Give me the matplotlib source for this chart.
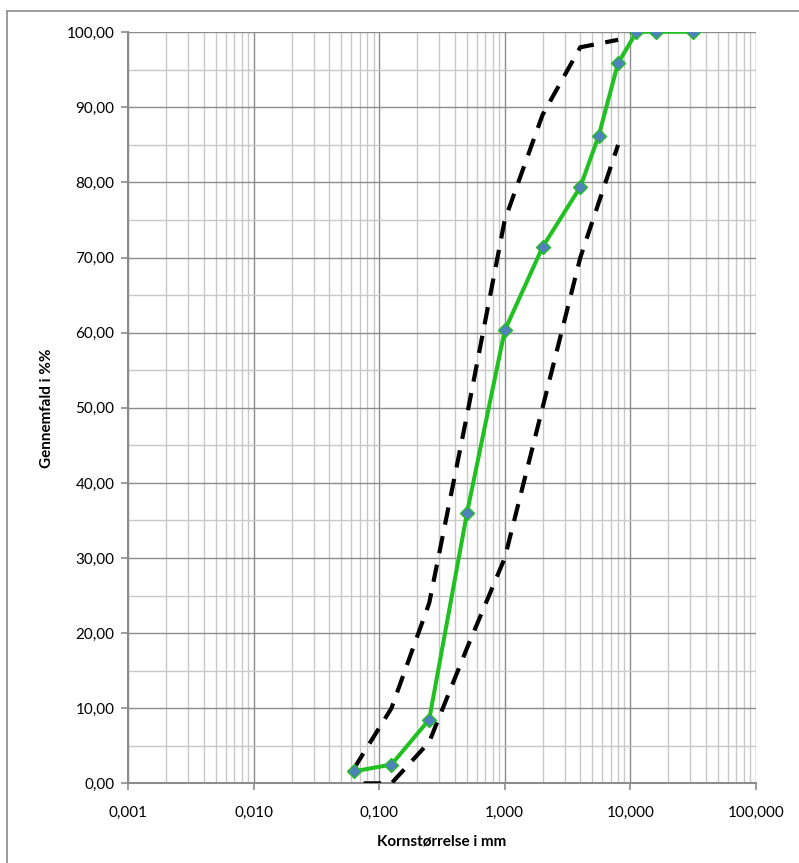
import numpy as np
import matplotlib
matplotlib.use('Agg')
import matplotlib.pyplot as plt
from matplotlib.ticker import FixedLocator, FuncFormatter, LogLocator, MultipleLocator
from matplotlib.lines import Line2D

# sieve analysis
sieve = [0.063, 0.125, 0.25, 0.5, 1, 2, 4, 5.6, 8, 11.2, 16, 31.5]
passing = [1.6, 2.5, 8.5, 36.0, 60.3, 71.4, 79.4, 86.2, 95.9, 100, 100, 100]

fine_x = [0.063, 0.125, 0.25, 0.5, 1, 2, 4, 8]
fine_y = [2, 10, 24, 49, 75, 89, 98, 99]

coarse_x = [0.075, 0.125, 0.25, 0.5, 1, 2, 4, 8]
coarse_y = [0, 0, 5.5, 18, 30, 50, 70, 85]

x_ticks = [0.001, 0.01, 0.1, 1, 10, 100]
y_ticks = np.arange(0, 101, 10)

plt.rcParams['font.family'] = ['Lato', 'DejaVu Sans']

fig = plt.figure(figsize=(7.99, 8.63), dpi=100)
ax = fig.add_axes([0.1606, 0.0923, 0.7852, 0.8703])

ax.set_xscale('log')
ax.set_xlim(0.001, 100)
ax.set_ylim(0, 100)

major_col = '#8c8c8c'
minor_col = '#c8c8c8'
ax.xaxis.set_major_locator(FixedLocator(x_ticks))
ax.xaxis.set_minor_locator(LogLocator(base=10, subs=np.arange(2, 10), numticks=20))
ax.yaxis.set_major_locator(FixedLocator(y_ticks))
ax.yaxis.set_minor_locator(MultipleLocator(5))
ax.xaxis.set_major_formatter(FuncFormatter(lambda v, p: f'{v:.3f}'.replace('.', ',')))
ax.yaxis.set_major_formatter(FuncFormatter(lambda v, p: f'{v:.2f}'.replace('.', ',')))

ax.grid(True, which='major', color=major_col, linewidth=1.0)
ax.grid(True, which='minor', color=minor_col, linewidth=1.0)
ax.set_axisbelow(True)

for s in ['top', 'right']:
    ax.spines[s].set_visible(False)
for s in ['left', 'bottom']:
    ax.spines[s].set_color(major_col)
    ax.spines[s].set_linewidth(1.5)

ax.tick_params(which='major', length=5, width=1.2, color=major_col, labelsize=11, pad=5)
ax.tick_params(which='minor', length=0)
ax.tick_params(axis='x', pad=11)

# envelopes
dash = (0, (4.2, 2.8))
ax.plot(fine_x, fine_y, color='black', linewidth=3.0, linestyle=dash, zorder=3)
ax.plot(coarse_x, coarse_y, color='black', linewidth=3.0, linestyle=dash, zorder=3)

# measured curve
ax.plot(sieve[:10], passing[:10], color='#1fc01f', linewidth=2.9, zorder=4)
ax.plot(sieve[9:], passing[9:], color='#1fc01f', linewidth=1.8, zorder=4)
ax.plot(sieve, passing, linestyle='none', marker='D', markersize=7.5,
        markerfacecolor='#4f81bd', markeredgecolor='#1fc01f', markeredgewidth=1.0, zorder=5)

ax.set_xlabel('Kornstørrelse i mm', fontsize=11, fontweight='bold', labelpad=11)
ax.set_ylabel('Gennemfald i %%', fontsize=11, fontweight='bold', labelpad=9)

# outer chart border
fig.add_artist(Line2D([7 / 799, 7 / 799], [0, 1 - 11 / 863], transform=fig.transFigure, color=major_col, linewidth=1.2))
fig.add_artist(Line2D([7 / 799, 1], [1 - 11 / 863, 1 - 11 / 863], transform=fig.transFigure, color=major_col, linewidth=1.2))

fig.savefig('out.png', dpi=100)
